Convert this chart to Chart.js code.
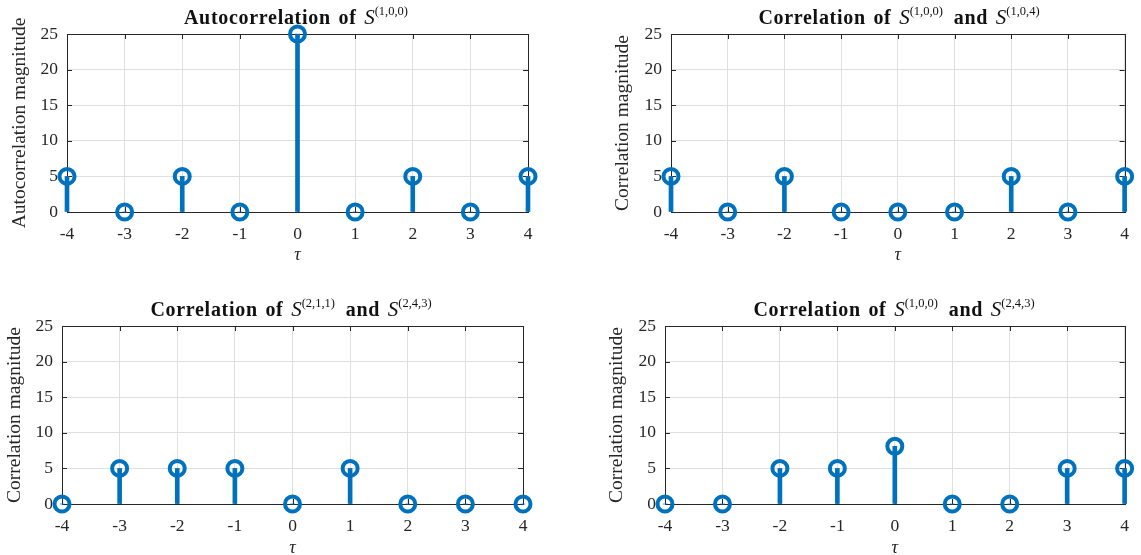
<!DOCTYPE html>
<html>
<head>
<meta charset="utf-8">
<script src="https://cdn.jsdelivr.net/npm/chart.js@4.4.1/dist/chart.umd.min.js"></script>
<style>
  html, body { margin:0; padding:0; background:#fff; width:1141px; height:555px; overflow:hidden; }
  canvas { position:absolute; }
  .ttl { position:absolute; text-align:center; font-family:'Liberation Serif', serif; font-weight:bold;
         font-size:20px; line-height:20px; color:#111; letter-spacing:0.7px; word-spacing:2px; white-space:nowrap; }
  .ttl i { font-weight:normal; font-style:italic; letter-spacing:0; font-size:21px; }
  .ttl sup { font-weight:normal; font-size:12.5px; position:relative; top:-0.75em; vertical-align:baseline; letter-spacing:0; margin-right:3px; }
</style>
</head>
<body>
<canvas id="c1" width="545" height="277" style="left:0px;top:0px"></canvas>
<canvas id="c2" width="571" height="277" style="left:570px;top:0px"></canvas>
<canvas id="c3" width="545" height="290" style="left:0px;top:277px"></canvas>
<canvas id="c4" width="571" height="290" style="left:570px;top:277px"></canvas>

<div class="ttl" style="left:67px;width:461px;top:7px">Autocorrelation of <i>S</i><sup>(1,0,0)</sup></div>
<div class="ttl" style="left:671px;width:459px;top:7px">Correlation of <i>S</i><sup>(1,0,0)</sup> and <i>S</i><sup>(1,0,4)</sup></div>
<div class="ttl" style="left:62px;width:461px;top:299px">Correlation of <i>S</i><sup>(2,1,1)</sup> and <i>S</i><sup>(2,4,3)</sup></div>
<div class="ttl" style="left:665px;width:461px;top:299px">Correlation of <i>S</i><sup>(1,0,0)</sup> and <i>S</i><sup>(2,4,3)</sup></div>

<script>
// ---- data ----
const tau = [-4, -3, -2, -1, 0, 1, 2, 3, 4];
const autoS100 = [5, 0, 5, 0, 25, 0, 5, 0, 5];
const corrS100_S104 = [5, 0, 5, 0, 0, 0, 5, 0, 5];
const corrS211_S243 = [0, 5, 5, 5, 0, 5, 0, 0, 0];
const corrS100_S243 = [0, 0, 5, 5, 8.1, 0, 0, 5, 5];
const yTicks = [0, 5, 10, 15, 20, 25];
const xLabel = 'τ';
const yLabels = ['Autocorrelation magnitude', 'Correlation magnitude', 'Correlation magnitude', 'Correlation magnitude'];

const BLUE = '#0072BD';
const AXC = '#262626';
const GRID = '#dfdfdf';
const SERIF = "'Liberation Serif', 'Times New Roman', serif";

const boxPlugin = {
  id: 'boxPlugin',
  beforeDatasetsDraw(chart) {
    const { ctx, chartArea: { left, right, top, bottom }, scales: { x, y } } = chart;
    ctx.save();
    ctx.strokeStyle = AXC;
    ctx.lineWidth = 1;
    ctx.beginPath();
    x.ticks.forEach(t => {
      const px = Math.round(x.getPixelForValue(t.value)) + 0.5;
      ctx.moveTo(px, bottom); ctx.lineTo(px, bottom - 5);
      ctx.moveTo(px, top); ctx.lineTo(px, top + 5);
    });
    y.ticks.forEach(t => {
      const py = Math.round(y.getPixelForValue(t.value)) + 0.5;
      ctx.moveTo(left, py); ctx.lineTo(left + 5, py);
      ctx.moveTo(right, py); ctx.lineTo(right - 5, py);
    });
    ctx.stroke();
    ctx.strokeRect(Math.round(left) + 0.5, Math.round(top) + 0.5, Math.round(right - left), Math.round(bottom - top));
    ctx.restore();
  }
};

function makeChart(id, values, cfg) {
  const pts = tau.map((t, i) => ({ x: t, y: values[i] }));
  new Chart(document.getElementById(id), {
    type: 'scatter',
    data: {
      datasets: [
        {
          type: 'scatter',
          data: pts,
          pointRadius: 7.5,
          pointBorderWidth: 4,
          pointBackgroundColor: 'rgba(0,0,0,0)',
          pointBorderColor: BLUE,
          clip: false
        },
        {
          type: 'bar',
          data: pts,
          backgroundColor: BLUE,
          barThickness: 4,
          clip: false
        }
      ]
    },
    options: {
      responsive: false,
      animation: false,
      events: [],
      layout: { padding: { left: 0, top: cfg.top, right: cfg.right, bottom: 0 } },
      plugins: { legend: { display: false }, tooltip: { enabled: false }, title: { display: false } },
      scales: {
        x: {
          type: 'linear', min: -4, max: 4, offset: false,
          afterFit: s => { s.height = cfg.xh; },
          afterBuildTicks: s => { s.ticks = tau.map(v => ({ value: v })); },
          grid: { color: GRID, drawTicks: false, offset: false },
          border: { display: false },
          ticks: { font: { family: SERIF, size: 17.5 }, color: AXC, padding: 12, maxRotation: 0, autoSkip: false },
          title: { display: true, text: xLabel, font: { family: SERIF, size: 18, style: 'italic' }, color: AXC, padding: { top: 0, bottom: cfg.tpad } }
        },
        y: {
          type: 'linear', min: 0, max: 25,
          afterFit: s => { s.width = cfg.yw; },
          afterBuildTicks: s => { s.ticks = yTicks.map(v => ({ value: v })); },
          grid: { color: GRID, drawTicks: false },
          border: { display: false },
          ticks: { font: { family: SERIF, size: 17.5 }, color: AXC, padding: 9 },
          title: { display: true, text: cfg.ylabel, font: { family: SERIF, size: 19.5 }, color: AXC, padding: { top: cfg.ypad, bottom: 0 } }
        }
      }
    },
    plugins: [boxPlugin]
  });
}

makeChart('c1', autoS100,      { top: 34, right: 17, xh: 65, yw: 67,  tpad: 11, ypad: 8.3,  ylabel: yLabels[0] });
makeChart('c2', corrS100_S104, { top: 34, right: 11, xh: 65, yw: 101, tpad: 11, ypad: 41.3, ylabel: yLabels[1] });
makeChart('c3', corrS211_S243, { top: 49, right: 22, xh: 63, yw: 62,  tpad: 8,  ypad: 3.3,  ylabel: yLabels[2] });
makeChart('c4', corrS100_S243, { top: 49, right: 15, xh: 63, yw: 95,  tpad: 8,  ypad: 35.3, ylabel: yLabels[3] });
</script>
</body>
</html>
